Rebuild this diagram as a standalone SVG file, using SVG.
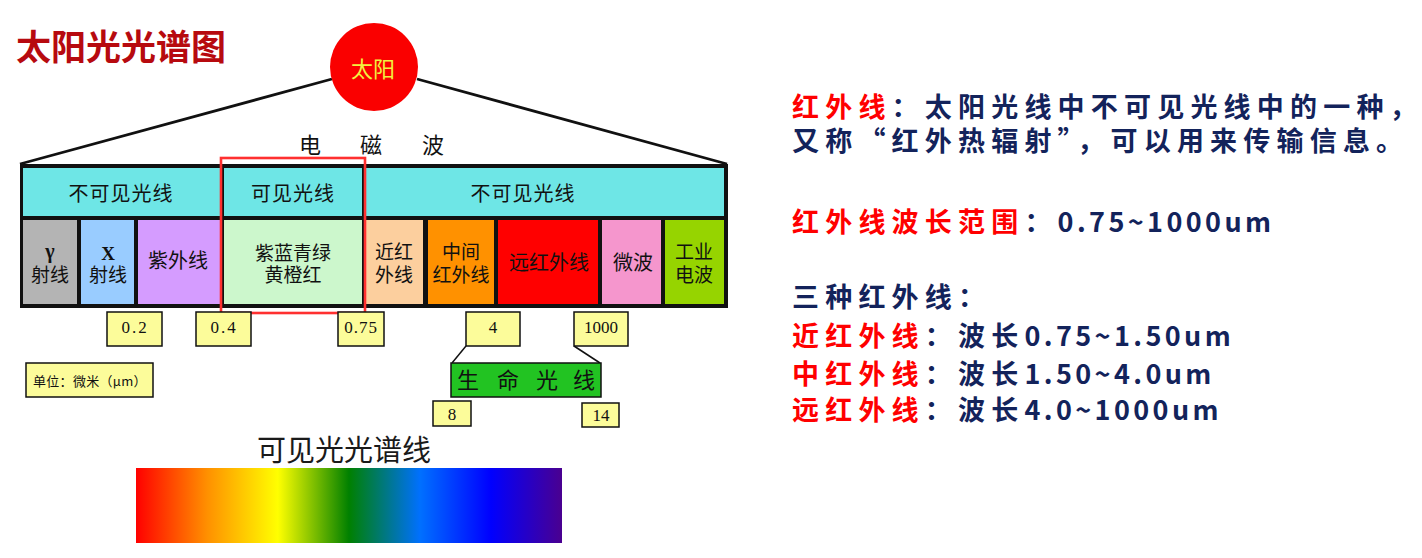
<svg xmlns="http://www.w3.org/2000/svg" width="1422" height="558" viewBox="0 0 1422 558">
<defs>
<linearGradient id="spec" x1="0" y1="0" x2="1" y2="0">
<stop offset="0" stop-color="#ff0000"/>
<stop offset="0.167" stop-color="#ff9000"/>
<stop offset="0.333" stop-color="#ffff00"/>
<stop offset="0.5" stop-color="#008000"/>
<stop offset="0.667" stop-color="#0070ff"/>
<stop offset="0.833" stop-color="#0000ff"/>
<stop offset="1" stop-color="#4a0090"/>
</linearGradient>
</defs>
<style>
.cjk{font-family:"Noto Sans CJK SC","Noto Sans",sans-serif;}
.lbl{font-family:"Noto Sans CJK SC","Noto Sans",sans-serif;font-size:20px;fill:#111;text-anchor:middle;}
.lb2{font-family:"Noto Sans CJK SC","Noto Sans",sans-serif;font-size:19px;fill:#111;text-anchor:middle;}
.num{font-family:"Liberation Serif","Noto Sans CJK SC",serif;font-size:17px;fill:#111;text-anchor:middle;}
.ybox{fill:#fcfc9a;stroke:#111;stroke-width:1.5;}
.conn{stroke:#111;fill:none;}
.info{font-family:"Noto Sans CJK SC","Noto Sans",sans-serif;font-size:27px;font-weight:bold;fill:#13235b;letter-spacing:6.2px;}
.red{fill:#ff0000;}
.lat{letter-spacing:3.4px;}
</style>
<rect width="1422" height="558" fill="#ffffff"/>

<g id="title"><text class="cjk" x="16" y="60" font-size="35" font-weight="bold" fill="#b70a0f">太阳光光谱图</text></g>

<g id="connectors">
<path class="conn" stroke-width="2.8" d="M20 164 L332 79"/>
<path class="conn" stroke-width="2.8" d="M417 79 L727 164"/>
<path class="conn" stroke-width="1.5" d="M466 346 L452 363"/>
<path class="conn" stroke-width="1.5" d="M574 346 L600 363"/>
</g>

<g id="sun">
<circle cx="374" cy="67" r="44" fill="#fa0000"/>
<text class="cjk" x="373" y="77" font-size="22" fill="#f2f240" text-anchor="middle">太阳</text>
</g>

<g id="em-label"><text class="cjk" font-size="22" fill="#111" text-anchor="middle" y="153"><tspan x="310">电</tspan><tspan x="371">磁</tspan><tspan x="433">波</tspan></text></g>

<g id="spectrum-table">
<rect x="20" y="164" width="708" height="144" fill="#111"/>
<g id="top-invisible-left"><rect x="23" y="168" width="197" height="48" fill="#6ee6e6"/><text class="lbl" x="121" y="201" letter-spacing="1">不可见光线</text></g>
<g id="top-visible"><rect x="224" y="168" width="138" height="48" fill="#6ee6e6"/><text class="lbl" x="293" y="201" letter-spacing="1">可见光线</text></g>
<g id="top-invisible-right"><rect x="366" y="168" width="358" height="48" fill="#6ee6e6"/><text class="lbl" x="523" y="201" letter-spacing="1">不可见光线</text></g>
<g id="gamma"><rect x="23" y="220" width="54" height="84" fill="#b4b4b4"/><text x="50" y="258" font-family="Liberation Serif,serif" font-size="20" font-weight="bold" fill="#111" text-anchor="middle">γ</text><text class="lb2" x="50" y="282">射线</text></g>
<g id="xray"><rect x="81" y="220" width="53" height="84" fill="#99ccff"/><text x="108" y="260" font-family="Liberation Serif,serif" font-size="19" font-weight="bold" fill="#111" text-anchor="middle">X</text><text class="lb2" x="108" y="282">射线</text></g>
<g id="uv"><rect x="138" y="220" width="82" height="84" fill="#d59cff"/><text class="lbl" x="178" y="268">紫外线</text></g>
<g id="visible"><rect x="224" y="220" width="138" height="84" fill="#ccf7cc"/><text class="lb2" x="293" y="260">紫蓝青绿</text><text class="lb2" x="293" y="282">黄橙红</text></g>
<g id="near-ir"><rect x="366" y="220" width="57" height="84" fill="#fccf9e"/><text class="lb2" x="394" y="259">近红</text><text class="lb2" x="394" y="282">外线</text></g>
<g id="mid-ir"><rect x="428" y="220" width="66" height="84" fill="#ff9100"/><text class="lb2" x="461" y="259">中间</text><text class="lb2" x="461" y="282">红外线</text></g>
<g id="far-ir"><rect x="498" y="220" width="100" height="84" fill="#ff0000"/><text class="lbl" x="549" y="270">远红外线</text></g>
<g id="microwave"><rect x="602" y="220" width="59" height="84" fill="#f596cd"/><text class="lbl" x="633" y="270">微波</text></g>
<g id="industrial"><rect x="665" y="220" width="59" height="84" fill="#96d400"/><text class="lb2" x="694" y="259">工业</text><text class="lb2" x="694" y="282">电波</text></g>
</g>

<g id="visible-highlight"><rect x="221" y="158" width="144" height="155" fill="none" stroke="#ff3030" stroke-width="2.6"/></g>

<g id="v02"><rect class="ybox" x="107" y="312" width="55" height="34"/><text class="num" x="135" y="333" letter-spacing="2">0.2</text></g>
<g id="v04"><rect class="ybox" x="196" y="312" width="55" height="34"/><text class="num" x="224" y="333" letter-spacing="2">0.4</text></g>
<g id="v075"><rect class="ybox" x="338" y="312" width="46" height="34"/><text class="num" x="361" y="333" letter-spacing="1">0.75</text></g>
<g id="v4"><rect class="ybox" x="466" y="312" width="54" height="34"/><text class="num" x="493" y="333">4</text></g>
<g id="v1000"><rect class="ybox" x="574" y="312" width="54" height="34"/><text class="num" x="601" y="333" font-size="16">1000</text></g>
<g id="unit"><rect class="ybox" x="26" y="363" width="127" height="34"/><text class="cjk" x="33" y="386" font-size="13" fill="#111" letter-spacing="0.3">单位：微米（μm）</text></g>
<g id="life-light"><rect x="451" y="363" width="150" height="34" fill="#22c322" stroke="#111" stroke-width="1.5"/><text class="cjk" font-size="22" fill="#111" text-anchor="middle" y="388"><tspan x="468">生</tspan><tspan x="508">命</tspan><tspan x="547">光</tspan><tspan x="584">线</tspan></text></g>
<g id="v8"><rect class="ybox" x="433" y="401" width="38" height="25"/><text class="num" x="452" y="420">8</text></g>
<g id="v14"><rect class="ybox" x="582" y="403" width="37" height="24"/><text class="num" x="601" y="421">14</text></g>

<g id="visible-spectrum">
<text class="cjk" x="344" y="461" font-size="29" fill="#1a1a1a" text-anchor="middle">可见光光谱线</text>
<rect x="136" y="468" width="426" height="75" fill="url(#spec)"/>
</g>

<g id="info">
<text class="info" x="792" y="117"><tspan class="red">红外线</tspan>：太阳光线中不可见光线中的一种，</text>
<text class="info" x="792" y="151">又称“红外热辐射”，可以用来传输信息。</text>
<text class="info" x="792" y="232"><tspan class="red">红外线波长范围</tspan>：<tspan class="lat">0.75~1000um</tspan></text>
<text class="info" x="792" y="307">三种红外线：</text>
<text class="info" x="792" y="346"><tspan class="red">近红外线</tspan>：波长<tspan class="lat">0.75~1.50um</tspan></text>
<text class="info" x="792" y="384"><tspan class="red">中红外线</tspan>：波长<tspan class="lat">1.50~4.0um</tspan></text>
<text class="info" x="792" y="420"><tspan class="red">远红外线</tspan>：波长<tspan class="lat">4.0~1000um</tspan></text>
</g>
</svg>
